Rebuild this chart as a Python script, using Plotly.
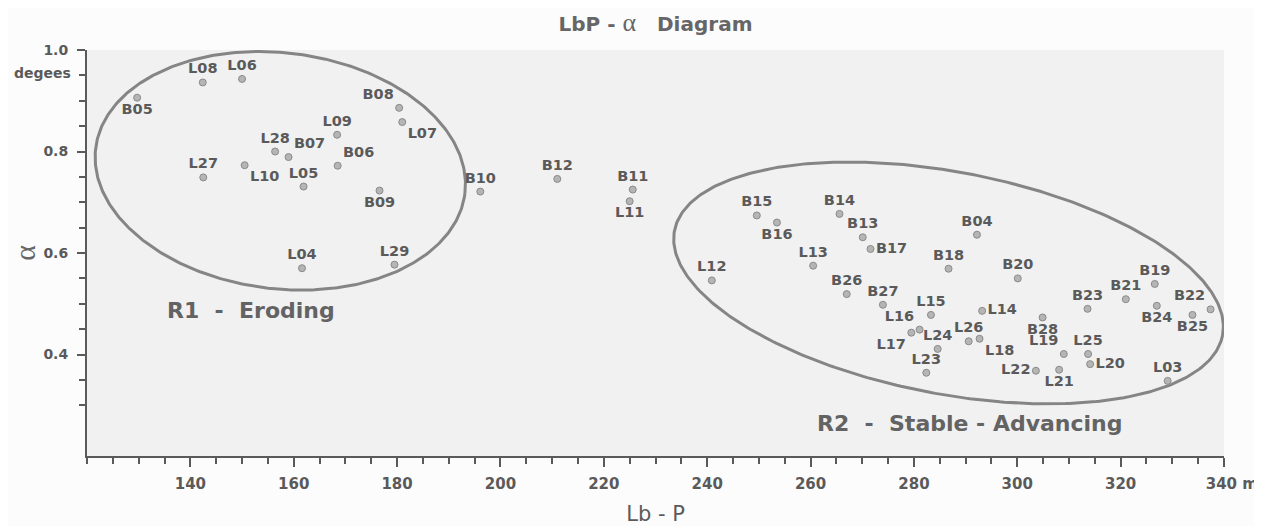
import numpy as np
import plotly.graph_objects as go

# ---------------- data ----------------
stations = ["B05", "L08", "L06", "B08", "L07", "L09", "L28", "B07", "B06", "L27",
            "L10", "L05", "B09", "L04", "L29", "B10", "B12", "B11", "L11", "B15",
            "B16", "B14", "B13", "B17", "L13", "L12", "B26", "B27", "L15", "L16",
            "L17", "L24", "L23", "L26", "L18", "L14", "B04", "B18", "B20", "B19",
            "B21", "B23", "B24", "B22", "B25", "B28", "L19", "L25", "L20", "L22",
            "L21", "L03"]
lb_p = [129.7, 142.4, 150.0, 180.4, 181.0, 168.4, 156.4, 159.0, 168.5, 142.5,
        150.5, 161.9, 176.6, 161.6, 179.5, 196.1, 211.0, 225.6, 225.0, 249.6,
        253.5, 265.6, 270.1, 271.6, 260.5, 240.9, 267.0, 274.0, 283.3, 281.1,
        279.5, 284.6, 282.4, 290.6, 292.7, 293.2, 292.2, 286.7, 300.1, 326.6,
        321.0, 313.6, 327.0, 337.4, 333.9, 304.9, 309.0, 313.7, 314.1, 303.6,
        308.1, 329.1]
alpha = [0.906, 0.936, 0.943, 0.886, 0.858, 0.833, 0.800, 0.789, 0.772, 0.749,
         0.773, 0.731, 0.723, 0.570, 0.577, 0.721, 0.746, 0.725, 0.702, 0.674,
         0.660, 0.677, 0.631, 0.608, 0.575, 0.546, 0.519, 0.498, 0.478, 0.449,
         0.443, 0.411, 0.364, 0.426, 0.431, 0.486, 0.636, 0.569, 0.550, 0.539,
         0.509, 0.490, 0.496, 0.489, 0.478, 0.473, 0.401, 0.401, 0.381, 0.368,
         0.370, 0.348]

x_ticks = [140, 160, 180, 200, 220, 240, 260, 280, 300, 320, 340]
x_tick_text = ["140", "160", "180", "200", "220", "240", "260", "280", "300", "320",
               "\u00a0\u00a0\u00a0340\u00a0m"]
y_ticks = [0.4, 0.6, 0.8, 1.0]
y_tick_text = ["0.4", "0.6", "0.8", "1.0"]

# ---------------- label placement (style) ----------------
label_pos = {
    "B05": "bottom center", "B08": "top left", "L07": "bottom right",
    "B07": "top right", "B06": "top right", "L10": "bottom right",
    "B09": "bottom center", "L11": "bottom center", "B16": "bottom center",
    "B17": "middle right", "L16": "top left", "L17": "bottom left",
    "L18": "bottom right", "L14": "middle right", "B24": "bottom center",
    "B22": "top left", "B25": "bottom center", "B28": "bottom center",
    "L20": "middle right", "L22": "middle left", "L21": "bottom center",
    "L19": "top left",
}
positions = [label_pos.get(s, "top center") for s in stations]

# ---------------- layout geometry ----------------
# the page body adds an 8px offset, so the figure is sized to end at the window edge
W, H = 1253, 518
ML, MR, MT, MB = 79, 37, 42, 70
XR = [120, 340]
YR = [0.2, 1.0]
px_x = (W - ML - MR) / (XR[1] - XR[0])
px_y = (H - MT - MB) / (YR[1] - YR[0])

# region ellipses: centre in data units, semi-axes in screen px, tilt in degrees
ellipses = [
    dict(cx=157.4, cy=0.762, a=186, b=118, tilt=-7.0),
    dict(cx=286.7, cy=0.541, a=279, b=111, tilt=-10.8),
]

GRAY = "#5a5a5a"
fig = go.Figure()

t = np.linspace(0, 2 * np.pi, 400)
for e in ellipses:
    th = np.radians(e["tilt"])
    dx = e["a"] * np.cos(t) * np.cos(th) - e["b"] * np.sin(t) * np.sin(th)
    dy = e["a"] * np.cos(t) * np.sin(th) + e["b"] * np.sin(t) * np.cos(th)
    fig.add_trace(go.Scatter(
        x=e["cx"] + dx / px_x, y=e["cy"] + dy / px_y, mode="lines",
        line=dict(color="#858585", width=3), hoverinfo="skip",
        showlegend=False, cliponaxis=False))

fig.add_trace(go.Scatter(
    x=lb_p, y=alpha, mode="markers+text", text=stations,
    textposition=positions,
    textfont=dict(family="DejaVu Sans", size=14.5, color=GRAY, weight="bold"),
    marker=dict(size=7, color="#b5b5b5", line=dict(color="#8a8a8a", width=1)),
    showlegend=False, cliponaxis=False))

fig.add_annotation(text="R1\u00a0\u00a0-\u00a0\u00a0Eroding", x=151.8, y=0.487,
                   xref="x", yref="y", showarrow=False,
                   font=dict(family="DejaVu Sans", size=22, color="#636363", weight="bold"))
fig.add_annotation(text="R2\u00a0\u00a0-\u00a0\u00a0Stable - Advancing", x=290.9, y=0.264,
                   xref="x", yref="y", showarrow=False,
                   font=dict(family="DejaVu Sans", size=22, color="#636363", weight="bold"))
fig.add_annotation(text="degees", xref="paper", x=0, xanchor="right", xshift=-14,
                   yref="y", y=0.955, showarrow=False,
                   font=dict(family="DejaVu Sans", size=14, color=GRAY, weight="bold"))

fig.update_layout(
    width=W, height=H,
    margin=dict(l=ML, r=MR, t=MT, b=MB, autoexpand=False),
    paper_bgcolor="#fcfcfc", plot_bgcolor="#f1f1f1",
    title=dict(
        text="LbP - <span style=\"font-family:'Liberation Serif';font-weight:normal;font-size:26px\">α</span>\u00a0\u00a0\u00a0Diagram",
        x=0.5, xref="paper", y=1 - 16 / H, yref="container", yanchor="middle", xanchor="center",
        font=dict(family="DejaVu Sans", size=20, color="#666666", weight="bold")),
    xaxis=dict(
        range=XR, tickmode="array", tickvals=x_ticks, ticktext=x_tick_text,
        ticks="outside", ticklen=9, tickwidth=2, tickcolor=GRAY, automargin=False,
        showline=True, linecolor=GRAY, linewidth=2, showgrid=False, zeroline=False,
        ticklabelstandoff=4,
        minor=dict(dtick=5, tick0=120, ticks="outside", ticklen=6, tickwidth=1.5,
                   tickcolor=GRAY, showgrid=False),
        tickfont=dict(family="DejaVu Sans", size=15, color=GRAY, weight="bold"),
        title=dict(text="Lb - P", standoff=19,
                   font=dict(family="DejaVu Sans", size=21, color=GRAY))),
    yaxis=dict(
        range=YR, tickmode="array", tickvals=y_ticks, ticktext=y_tick_text,
        ticks="outside", ticklen=8, tickwidth=2, tickcolor=GRAY, automargin=False,
        showline=True, linecolor=GRAY, linewidth=2, showgrid=False, zeroline=False,
        ticklabelstandoff=6,
        minor=dict(tickmode="array",
                   tickvals=[0.3, 0.35, 0.45, 0.5, 0.55, 0.65, 0.7, 0.75, 0.85, 0.9, 0.95],
                   ticks="outside", ticklen=6, tickwidth=1.5, tickcolor=GRAY, showgrid=False),
        tickfont=dict(family="DejaVu Sans", size=14, color=GRAY, weight="bold"),
        title=dict(text="α", standoff=12,
                   font=dict(family="Liberation Serif", size=30, color="#666666"))),
)

fig.write_html("out.html")
